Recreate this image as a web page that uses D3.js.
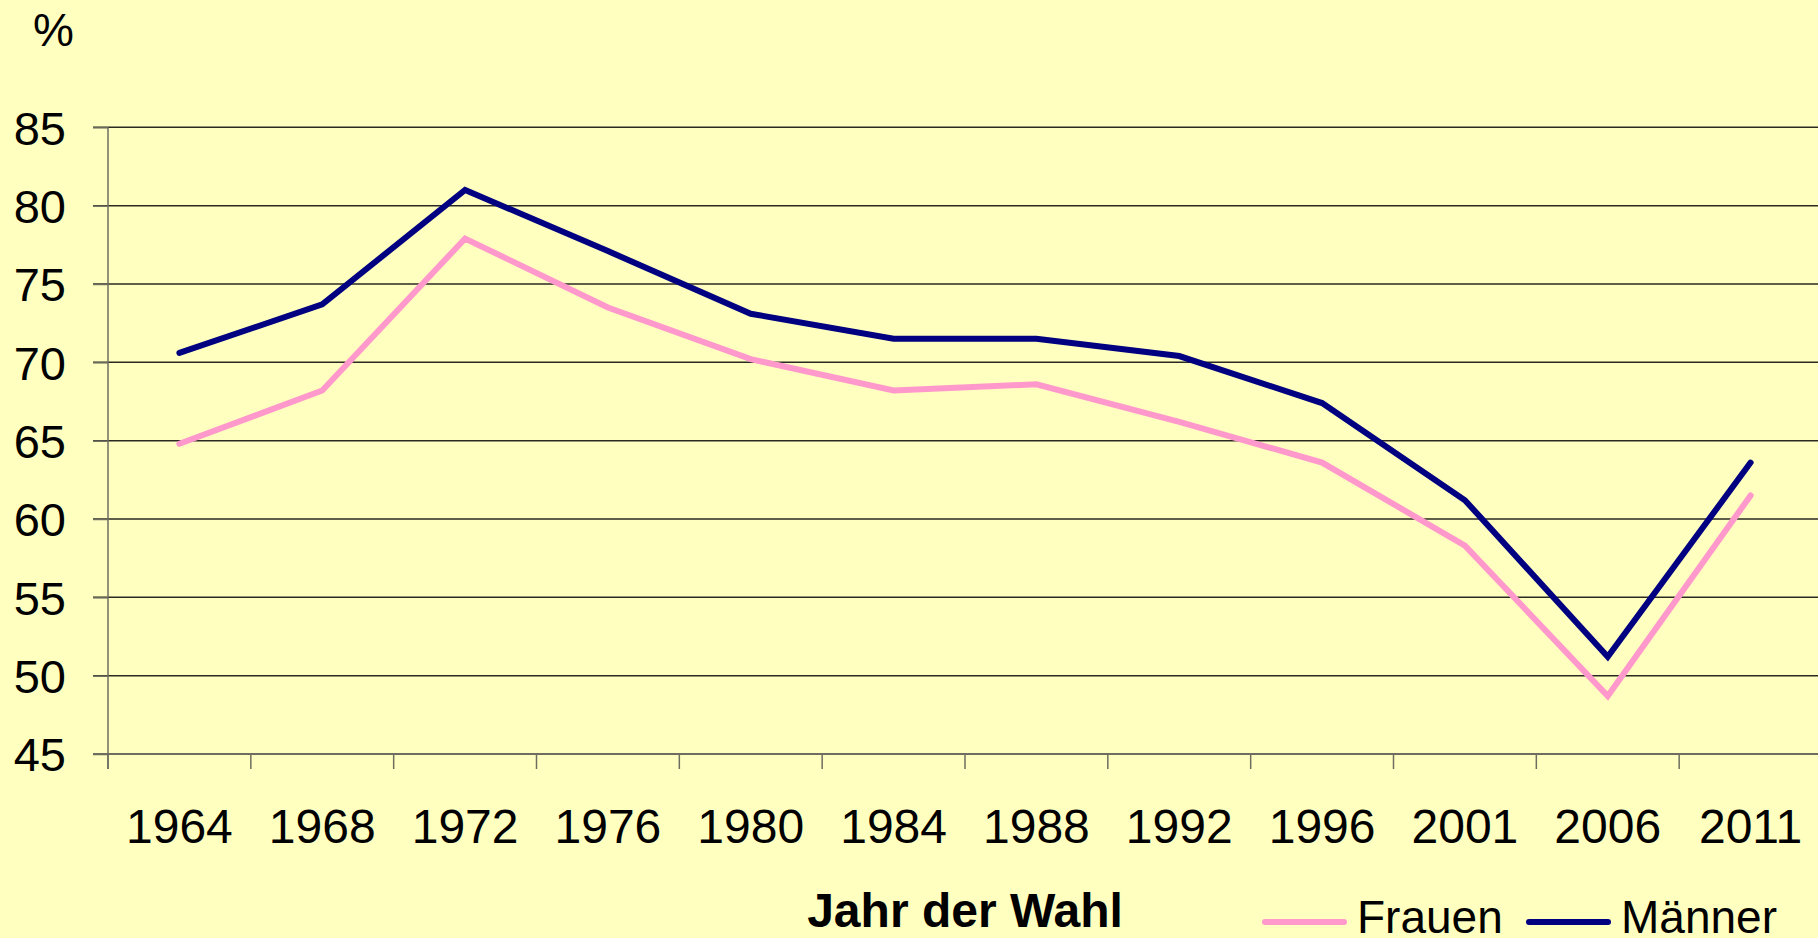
<!DOCTYPE html>
<meta charset="utf-8">
<style>
body { margin: 0; background: #FFFFC0; }
svg { display: block; background: #FFFFC0; font-family: "Liberation Sans", Arial, sans-serif; }
.grid line { stroke: #2a2a22; stroke-width: 1.5px; }
.axis path { display: none; }
.axis line { stroke: #6e6e60; stroke-width: 1.5px; }
.axis text { fill: #000; }
.axis--y text { font-size: 47px; }
.axis--x text { font-size: 48px; }
.series { fill: none; stroke-width: 6px; stroke-linejoin: miter; stroke-linecap: round; }
</style>
<body>
<div id="chart"></div>
<script src="https://cdn.jsdelivr.net/npm/d3@7"></script>
<script>
var years = ["1964", "1968", "1972", "1976", "1980", "1984", "1988", "1992", "1996", "2001", "2006", "2011"];
var frauen = [64.8, 68.2, 77.9, 73.5, 70.2, 68.2, 68.6, 66.2, 63.6, 58.3, 48.7, 61.5];
var maenner = [70.6, 73.7, 81.0, 77.1, 73.1, 71.5, 71.5, 70.4, 67.4, 61.2, 51.2, 63.6];
var yTicks = [45, 50, 55, 60, 65, 70, 75, 80, 85];
var seriesNames = ["Frauen", "Männer"];
var seriesColors = ["#FF99CC", "#000080"];

var W = 1818, H = 938;
var plotLeft = 108, plotRight = 1822, plotTop = 127.3, plotBottom = 754, tick = 15;

var svg = d3.select("#chart").append("svg")
    .attr("width", W)
    .attr("height", H);

var x = d3.scaleBand().domain(years).range([plotLeft, plotRight]);
var y = d3.scaleLinear().domain([45, 85]).range([plotBottom, plotTop]);

// gridlines (they start at the left tick marks)
svg.append("g")
    .attr("class", "grid")
    .selectAll("line")
    .data(yTicks.slice(1))
    .enter().append("line")
    .attr("x1", plotLeft - tick)
    .attr("x2", plotRight)
    .attr("y1", function(d) { return y(d); })
    .attr("y2", function(d) { return y(d); });

// y axis
var yAxis = d3.axisLeft(y).tickValues(yTicks).tickSize(tick).tickPadding(27);
svg.append("g")
    .attr("class", "axis axis--y")
    .attr("transform", "translate(" + plotLeft + ",0)")
    .call(yAxis)
    .selectAll("text")
    .attr("dy", "0.36em");

// x axis (labels centred in bands, ticks on band borders)
var xAxis = d3.axisBottom(x).tickSize(0).tickPadding(0);
var gx = svg.append("g")
    .attr("class", "axis axis--x")
    .attr("transform", "translate(0," + plotBottom + ")")
    .call(xAxis);
gx.selectAll("text").attr("y", 88.5).attr("dy", null);

gx.selectAll(".border")
    .data(years)
    .enter().append("line")
    .attr("class", "border")
    .attr("x1", function(d) { return x(d); })
    .attr("x2", function(d) { return x(d); })
    .attr("y1", 0)
    .attr("y2", tick);

// axis lines
svg.append("line")
    .attr("x1", plotLeft).attr("x2", plotLeft)
    .attr("y1", plotTop).attr("y2", plotBottom + tick)
    .attr("stroke", "#6e6e60").attr("stroke-width", 1.5);
svg.append("line")
    .attr("x1", plotLeft - tick).attr("x2", plotRight)
    .attr("y1", plotBottom).attr("y2", plotBottom)
    .attr("stroke", "#6e6e60").attr("stroke-width", 2);

// lines
var line = d3.line()
    .x(function(d, i) { return x(years[i]) + x.bandwidth() / 2; })
    .y(function(d) { return y(d); });

svg.selectAll(".series")
    .data([frauen, maenner])
    .enter().append("path")
    .attr("class", "series")
    .attr("stroke", function(d, i) { return seriesColors[i]; })
    .attr("d", line);

// labels
svg.append("text")
    .attr("x", 33)
    .attr("y", 46)
    .style("font-size", "46px")
    .text("%");

svg.append("text")
    .attr("x", (plotLeft + plotRight) / 2)
    .attr("y", 927)
    .attr("text-anchor", "middle")
    .style("font-size", "48px")
    .style("font-weight", "bold")
    .text("Jahr der Wahl");

// legend
var legend = svg.selectAll(".legend")
    .data(seriesNames)
    .enter().append("g")
    .attr("class", "legend")
    .attr("transform", function(d, i) { return "translate(" + (1265 + i * 264) + ",0)"; });

legend.append("line")
    .attr("x1", 0).attr("x2", 79)
    .attr("y1", 922).attr("y2", 922)
    .attr("stroke", function(d, i) { return seriesColors[i]; })
    .attr("stroke-width", 6)
    .attr("stroke-linecap", "round");

legend.append("text")
    .attr("x", 92)
    .attr("y", 933)
    .style("font-size", "46px")
    .text(function(d) { return d; });
</script>
</body>
